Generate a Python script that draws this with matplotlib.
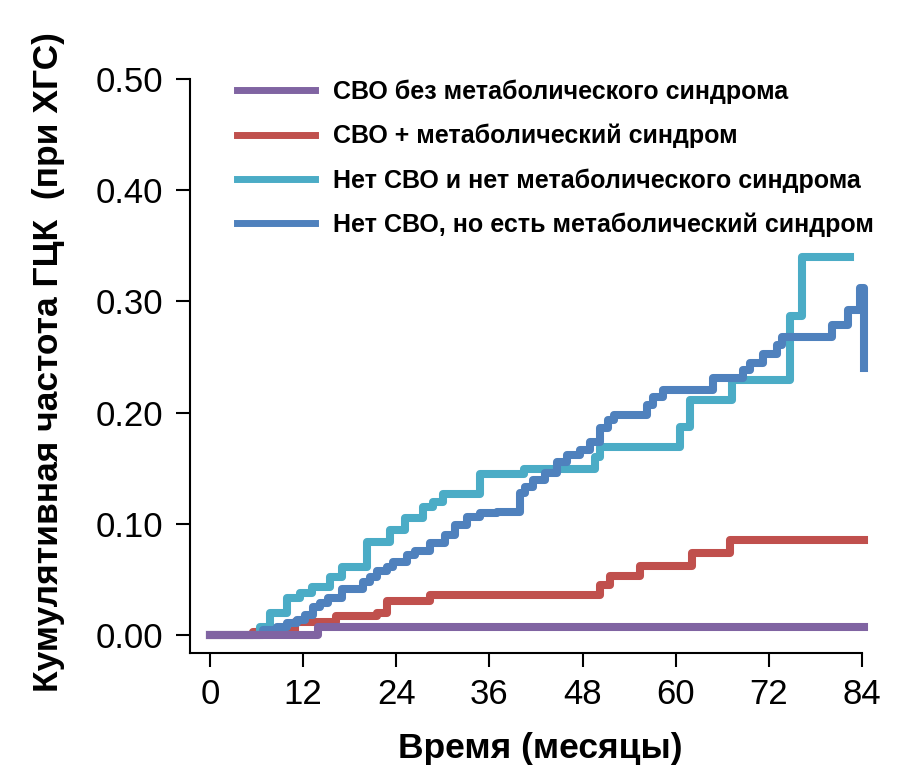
import matplotlib
matplotlib.use('Agg')
import matplotlib.pyplot as plt

plt.rcParams['font.family'] = ['Liberation Sans', 'DejaVu Sans']

# month of each step and cumulative incidence after it
t_svo_nomets = [0, 13.9, 84.3]
v_svo_nomets = [0, 0.007, 0.007]

t_svo_mets = [0, 5.5, 11, 16.3, 21.5, 22.8, 28.3, 50.2, 51.5, 55.4, 62.1, 67, 84.3]
v_svo_mets = [0, 0.003, 0.012, 0.017, 0.020, 0.031, 0.036, 0.045, 0.053, 0.062, 0.0735, 0.085, 0.085]

t_nosvo_nomets = [0, 6.4, 7.7, 9.9, 11.6, 13.1, 15.5, 17, 20.2, 23.2, 25.1, 27.4, 28.7, 30,
                  34.8, 40.5, 49.6, 50.3, 60.5, 61.8, 67.2, 74.7, 76.3, 82.4]
v_nosvo_nomets = [0, 0.0075, 0.020, 0.033, 0.038, 0.043, 0.052, 0.061, 0.084, 0.094, 0.105, 0.115, 0.120, 0.127,
                  0.145, 0.149, 0.160, 0.169, 0.187, 0.211, 0.229, 0.287, 0.340, 0.340]

t_nosvo_mets = [0, 6.8, 8.6, 9.9, 11.2, 12.2, 13.3, 14.2, 15.2, 17, 19.7, 20.6, 21.5, 22.8, 23.6, 25.4,
                26.4, 28.3, 30.3, 31.6, 33.1, 34.8, 37, 39.9, 40.6, 41.6, 43.2, 44.7, 46, 47.7, 49,
                50.2, 51.3, 52, 56.3, 57.1, 58.4, 64.8, 68.7, 69.6, 71.3, 73, 73.7, 80.1, 82.2, 83.7,
                84.0, 84.3]
v_nosvo_mets = [0, 0.0045, 0.007, 0.0105, 0.0135, 0.018, 0.025, 0.029, 0.033, 0.041, 0.048, 0.052, 0.058,
                0.061, 0.066, 0.072, 0.076, 0.083, 0.090, 0.099, 0.106, 0.110, 0.111, 0.128, 0.133, 0.139,
                0.146, 0.156, 0.162, 0.166, 0.174, 0.186, 0.193, 0.198, 0.207, 0.214, 0.220, 0.231, 0.238,
                0.245, 0.253, 0.261, 0.268, 0.279, 0.292, 0.312, 0.312, 0.240]

labels = ['СВО без метаболического синдрома',
          'СВО + метаболический синдром',
          'Нет СВО и нет метаболического синдрома',
          'Нет СВО, но есть метаболический синдром']
colors = ['#8064A2', '#C0504D', '#4BACC6', '#4F81BD']

xticks = [0, 12, 24, 36, 48, 60, 72, 84]
yticks = [0.0, 0.1, 0.2, 0.3, 0.4, 0.5]

fig = plt.figure(figsize=(9.09, 7.7), dpi=100)
ax = fig.add_axes([0.209, 0.1519, 0.7563, 0.7455])

series = [(t_svo_nomets, v_svo_nomets, 5), (t_svo_mets, v_svo_mets, 2),
          (t_nosvo_nomets, v_nosvo_nomets, 3), (t_nosvo_mets, v_nosvo_mets, 4)]
for (t, v, z), lab, c in zip(series, labels, colors):
    ax.step(t, v, where='post', color=c, lw=5.8, label=lab, zorder=z, clip_on=False)

ax.set_xlim(-2.577, 86)
ax.set_ylim(-0.0162, 0.50)
ax.spines['top'].set_visible(False)
ax.spines['right'].set_visible(False)
ax.spines['bottom'].set_bounds(-2.577, 84)
for s in ('left', 'bottom'):
    ax.spines[s].set_linewidth(1.5)

ax.set_xticks(xticks)
ax.set_yticks(yticks)
ax.set_yticklabels(['%.2f' % y for y in yticks])
ax.tick_params(axis='both', labelsize=25, length=10, width=1.5)
ax.tick_params(axis='x', pad=8)
ax.tick_params(axis='y', pad=9)

ax.set_xlabel('Время (месяцы)', fontsize=25.5, fontweight='bold')
ax.xaxis.set_label_coords(0.509, -0.138)
ax.set_ylabel('Кумулятивная частота ГЦК  (при ХГС)', fontsize=25.5, fontweight='bold')
ax.yaxis.set_label_coords(-0.182, 0.507)

leg = ax.legend(loc='upper left', bbox_to_anchor=(0.2607, 0.897), bbox_transform=fig.transFigure,
                frameon=False, prop={'weight': 'bold', 'size': 18},
                handlelength=3.12, handletextpad=0.72, labelspacing=0.8,
                borderpad=0, borderaxespad=0)
for h in leg.get_lines():
    h.set_linewidth(5)

fig.savefig('out.png', dpi=100)
